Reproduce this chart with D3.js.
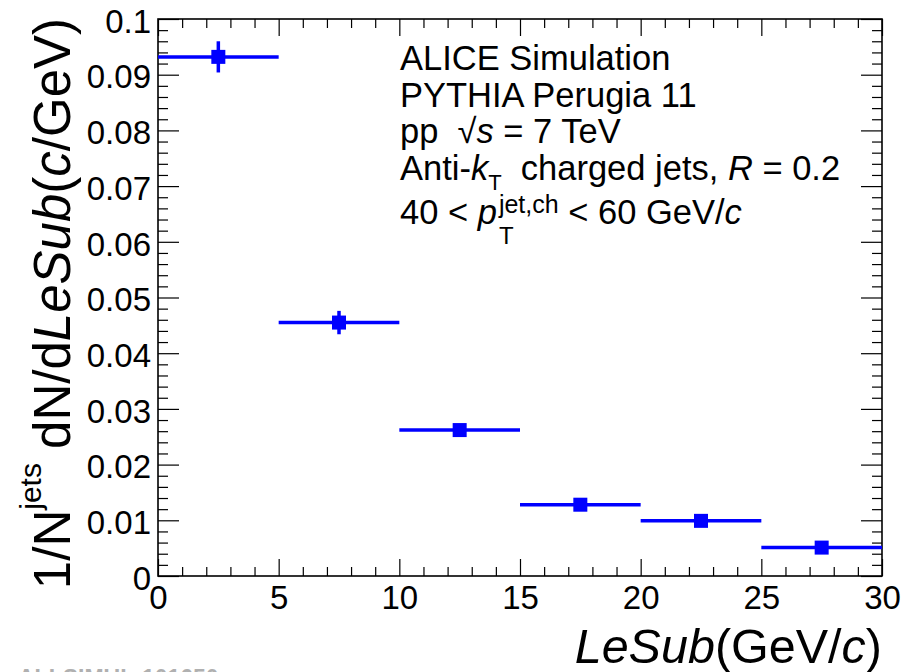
<!DOCTYPE html>
<html>
<head>
<meta charset="utf-8">
<script src="https://cdn.jsdelivr.net/npm/d3@7"></script>
<style>
  body { margin: 0; background: #fff; }
  svg { display: block; }
  text { font-family: "Liberation Sans", Arial, Helvetica, sans-serif; white-space: pre; }
</style>
</head>
<body>
<div id="chart"></div>
<script>
// LeSub distribution, 40 < pT < 60 GeV/c
const binLow = [0, 5, 10, 15, 20, 25];
const binHigh = [5, 10, 15, 20, 25, 30];
const values = [0.0932, 0.0455, 0.0262, 0.0128, 0.0099, 0.0051];
const errors = [0.0028, 0.0021, 0.0009, 0.0007, 0.0006, 0.0005];
const xTicks = [0, 5, 10, 15, 20, 25, 30];
const yTicks = [0, 0.01, 0.02, 0.03, 0.04, 0.05, 0.06, 0.07, 0.08, 0.09, 0.1];

const W = 902, H = 672;
const margin = { top: 19, right: 20, bottom: 96, left: 158 };
const blue = "#0000ff";

const svg = d3.select("#chart").append("svg")
    .attr("width", W)
    .attr("height", H);

const x = d3.scaleLinear().domain([0, 30]).range([margin.left, W - margin.right]);
const y = d3.scaleLinear().domain([0, 0.1]).range([H - margin.bottom, margin.top]);
const x0 = x.range()[0], x1 = x.range()[1], y0 = y.range()[0], y1 = y.range()[1];

const minorX = d3.range(0, 31, 1).filter(d => d % 5 !== 0);
const minorY = d3.range(0, 51, 1).filter(d => d % 5 !== 0).map(d => d * 0.002);

function styleAxis(g) {
    g.selectAll(".domain").remove();
    g.selectAll("line").attr("stroke", "#000").attr("stroke-width", 1.2);
    g.selectAll("text").attr("fill", "#000").attr("font-size", 33)
        .attr("font-family", "'Liberation Sans', Arial, Helvetica, sans-serif");
}

// bottom axis
svg.append("g").attr("transform", `translate(0,${y0})`)
    .call(d3.axisBottom(x).tickValues(xTicks).tickSize(-17).tickPadding(10).tickFormat(d3.format("d")))
    .call(styleAxis);
svg.append("g").attr("transform", `translate(0,${y0})`)
    .call(d3.axisBottom(x).tickValues(minorX).tickSize(-9).tickFormat(""))
    .call(styleAxis);
// top axis
svg.append("g").attr("transform", `translate(0,${y1})`)
    .call(d3.axisTop(x).tickValues(xTicks).tickSize(-17).tickFormat(""))
    .call(styleAxis);
svg.append("g").attr("transform", `translate(0,${y1})`)
    .call(d3.axisTop(x).tickValues(minorX).tickSize(-9).tickFormat(""))
    .call(styleAxis);
// left axis
svg.append("g").attr("transform", `translate(${x0},0)`)
    .call(d3.axisLeft(y).tickValues(yTicks).tickSize(-21).tickPadding(7).tickFormat(d => d === 0 ? "0" : d3.format("~g")(d)))
    .call(styleAxis)
    .call(g => g.selectAll("text").attr("dy", "0.4em"));
svg.append("g").attr("transform", `translate(${x0},0)`)
    .call(d3.axisLeft(y).tickValues(minorY).tickSize(-10).tickFormat(""))
    .call(styleAxis);
// right axis
svg.append("g").attr("transform", `translate(${x1},0)`)
    .call(d3.axisRight(y).tickValues(yTicks).tickSize(-21).tickFormat(""))
    .call(styleAxis);
svg.append("g").attr("transform", `translate(${x1},0)`)
    .call(d3.axisRight(y).tickValues(minorY).tickSize(-10).tickFormat(""))
    .call(styleAxis);

// frame
svg.append("rect")
    .attr("x", x0).attr("y", y1)
    .attr("width", x1 - x0).attr("height", y0 - y1)
    .attr("fill", "none").attr("stroke", "#000").attr("stroke-width", 1.6);

// data points
const pts = binLow.map((lo, i) => ({ lo: lo, hi: binHigh[i], v: values[i], e: errors[i] }));
const gData = svg.append("g");
gData.selectAll(".hbar").data(pts).join("line")
    .attr("class", "hbar")
    .attr("x1", d => x(d.lo)).attr("x2", d => x(d.hi))
    .attr("y1", d => y(d.v)).attr("y2", d => y(d.v))
    .attr("stroke", blue).attr("stroke-width", 3.5);
gData.selectAll(".vbar").data(pts).join("line")
    .attr("class", "vbar")
    .attr("x1", d => x((d.lo + d.hi) / 2)).attr("x2", d => x((d.lo + d.hi) / 2))
    .attr("y1", d => y(d.v - d.e)).attr("y2", d => y(d.v + d.e))
    .attr("stroke", blue).attr("stroke-width", 3.5);
gData.selectAll(".marker").data(pts).join("rect")
    .attr("class", "marker")
    .attr("x", d => x((d.lo + d.hi) / 2) - 7)
    .attr("y", d => y(d.v) - 7)
    .attr("width", 14).attr("height", 14)
    .attr("fill", blue);

// x axis title
const xt = svg.append("text")
    .attr("x", x1).attr("y", 663)
    .attr("text-anchor", "end")
    .attr("font-size", 48.5);
xt.append("tspan").attr("font-style", "italic").text("LeSub");
xt.append("tspan").text("(GeV/");
xt.append("tspan").attr("font-style", "italic").text("c");
xt.append("tspan").text(")");

// y axis title
const yt = svg.append("text")
    .attr("transform", "translate(70,18) rotate(-90)")
    .attr("text-anchor", "end")
    .attr("font-size", 51);
yt.append("tspan").text("1/N");
yt.append("tspan").attr("font-size", 30).attr("dy", -29).text("jets");
yt.append("tspan").attr("dy", 29).text(" dN/d");
yt.append("tspan").attr("font-style", "italic").text("LeSub");
yt.append("tspan").text("(");
yt.append("tspan").attr("font-style", "italic").text("c");
yt.append("tspan").text("/GeV)");

// annotation block
const tx = 400, fs = 34.5;
svg.append("text").attr("x", tx).attr("y", 70).attr("font-size", fs).text("ALICE Simulation");
svg.append("text").attr("x", tx).attr("y", 107).attr("font-size", fs).text("PYTHIA Perugia 11");

const l3 = svg.append("text").attr("x", tx).attr("y", 143).attr("font-size", fs);
l3.append("tspan").text("pp  \u221A");
l3.append("tspan").attr("font-style", "italic").text("s");
l3.append("tspan").text(" = 7 TeV");

const l4 = svg.append("text").attr("x", tx).attr("y", 180).attr("font-size", fs);
l4.append("tspan").text("Anti-");
l4.append("tspan").attr("font-style", "italic").text("k");
l4.append("tspan").attr("font-size", 22).attr("dy", 10).text("T");
l4.append("tspan").attr("dy", -10).text("  charged jets, ");
l4.append("tspan").attr("font-style", "italic").text("R");
l4.append("tspan").text(" = 0.2");

const l5 = svg.append("text").attr("x", tx).attr("y", 224).attr("font-size", fs);
l5.append("tspan").text("40 < ");
l5.append("tspan").attr("font-style", "italic").text("p");
const sup = l5.append("tspan").attr("font-size", 25).attr("dx", 2).attr("dy", -11).text("jet,ch");
const wSup = sup.node().getComputedTextLength();
const sub = l5.append("tspan").attr("font-size", 24).attr("dx", -wSup).attr("dy", 31).text("T");
const wSub = sub.node().getComputedTextLength();
l5.append("tspan").attr("dx", wSup - wSub).attr("dy", -20).text(" < 60 GeV/");
l5.append("tspan").attr("font-style", "italic").text("c");

// figure id watermark (cut by the bottom edge as in the original)
svg.append("text").attr("x", 18).attr("y", 686)
    .attr("font-size", 23).attr("fill", "#b0b0b0").attr("font-weight", "bold")
    .text("ALI-SIMUL-101650");
</script>
</body>
</html>
